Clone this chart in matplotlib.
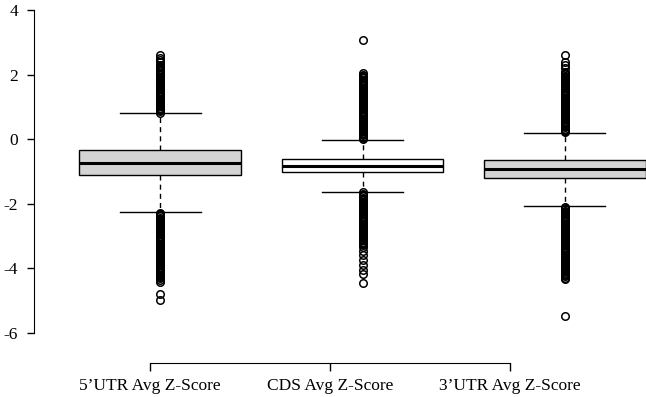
import matplotlib
matplotlib.use("Agg")
import matplotlib.pyplot as plt

# box statistics
labels = ["5\u2019UTR Avg Z-Score", "CDS Avg Z-Score", "3\u2019UTR Avg Z-Score"]
q1 = [-1.11, -1.02, -1.20]
medians = [-0.74, -0.83, -0.92]
q3 = [-0.33, -0.61, -0.64]
whis_lo = [-2.25, -1.63, -2.07]
whis_hi = [0.81, -0.02, 0.19]
box_colors = ["#d3d3d3", "#ffffff", "#d3d3d3"]

# outliers, read down each column (the dense parts look solid in the original)
utr5_out = [0.82, 0.86, 0.90, 0.94, 0.98, 1.02, 1.06, 1.10, 1.14, 1.18, 1.22, 1.26,
            1.30, 1.34, 1.38, 1.42, 1.46, 1.50, 1.54, 1.58, 1.62, 1.66, 1.70, 1.74,
            1.78, 1.82, 1.86, 1.90, 1.94, 1.98, 2.02, 2.06, 2.10, 2.14, 2.18, 2.22,
            2.26, 2.30, 2.38, 2.45, 2.52, 2.61,
            -2.27, -2.31, -2.35, -2.39, -2.43, -2.47, -2.51, -2.55, -2.59, -2.63,
            -2.67, -2.71, -2.75, -2.79, -2.83, -2.87, -2.91, -2.95, -2.99, -3.03,
            -3.07, -3.11, -3.15, -3.19, -3.23, -3.27, -3.31, -3.35, -3.39, -3.43,
            -3.47, -3.51, -3.55, -3.59, -3.63, -3.67, -3.71, -3.75, -3.79, -3.83,
            -3.87, -3.91, -3.95, -3.99, -4.03, -4.07, -4.11, -4.15, -4.19, -4.23,
            -4.27, -4.31, -4.36, -4.42, -4.79, -4.98]
cds_out = [0.00, 0.04, 0.08, 0.12, 0.16, 0.20, 0.24, 0.28, 0.32, 0.36, 0.40, 0.44,
           0.48, 0.52, 0.56, 0.60, 0.64, 0.68, 0.72, 0.76, 0.80, 0.84, 0.88, 0.92,
           0.96, 1.00, 1.04, 1.08, 1.12, 1.16, 1.20, 1.24, 1.28, 1.32, 1.36, 1.40,
           1.44, 1.48, 1.52, 1.56, 1.60, 1.64, 1.68, 1.72, 1.76, 1.80, 1.84, 1.88,
           1.92, 1.96, 2.00, 2.05, 3.07,
           -1.65, -1.69, -1.73, -1.77, -1.81, -1.85, -1.89, -1.93, -1.97, -2.01,
           -2.05, -2.09, -2.13, -2.17, -2.21, -2.25, -2.29, -2.33, -2.37, -2.41,
           -2.45, -2.49, -2.53, -2.57, -2.61, -2.65, -2.69, -2.73, -2.77, -2.81,
           -2.85, -2.89, -2.93, -2.97, -3.01, -3.05, -3.09, -3.13, -3.17, -3.21,
           -3.25, -3.29, -3.33, -3.45, -3.60, -3.75, -3.90, -4.05, -4.18, -4.45]
utr3_out = [0.21, 0.25, 0.29, 0.33, 0.37, 0.41, 0.45, 0.49, 0.53, 0.57, 0.61, 0.65,
            0.69, 0.73, 0.77, 0.81, 0.85, 0.89, 0.93, 0.97, 1.01, 1.05, 1.09, 1.13,
            1.17, 1.21, 1.25, 1.29, 1.33, 1.37, 1.41, 1.45, 1.49, 1.53, 1.57, 1.61,
            1.65, 1.69, 1.73, 1.77, 1.81, 1.85, 1.89, 1.93, 1.97, 2.01, 2.05, 2.09,
            2.20, 2.30, 2.39, 2.61,
            -2.09, -2.13, -2.17, -2.21, -2.25, -2.29, -2.33, -2.37, -2.41, -2.45,
            -2.49, -2.53, -2.57, -2.61, -2.65, -2.69, -2.73, -2.77, -2.81, -2.85,
            -2.89, -2.93, -2.97, -3.01, -3.05, -3.09, -3.13, -3.17, -3.21, -3.25,
            -3.29, -3.33, -3.37, -3.41, -3.45, -3.49, -3.53, -3.57, -3.61, -3.65,
            -3.69, -3.73, -3.77, -3.81, -3.85, -3.89, -3.93, -3.97, -4.01, -4.05,
            -4.09, -4.13, -4.17, -4.21, -4.25, -4.29, -4.33, -5.48]
outliers = [utr5_out, cds_out, utr3_out]

plt.rcParams["font.family"] = ["Liberation Serif", "DejaVu Serif"]
plt.rcParams["axes.unicode_minus"] = False
plt.rcParams["font.size"] = 12.5

W, H = 646, 397
fig = plt.figure(figsize=(W / 100, H / 100), dpi=100)

# box panel (right box runs off the edge, as in the original)
ax = fig.add_axes([59 / W, (H - 333) / H, 607 / W, 323 / H])
ax.patch.set_alpha(0)

stats = []
for i in range(3):
    stats.append(dict(med=medians[i], q1=q1[i], q3=q3[i],
                      whislo=whis_lo[i], whishi=whis_hi[i], fliers=outliers[i]))

bp = ax.bxp(stats, positions=[1, 2, 3], widths=0.8, capwidths=0.4,
            patch_artist=True, showfliers=True,
            boxprops=dict(edgecolor="black", linewidth=1.0),
            medianprops=dict(color="black", linewidth=2.2),
            whiskerprops=dict(color="black", linewidth=1.0, linestyle=(0, (3.6, 3))),
            capprops=dict(color="black", linewidth=1.0),
            flierprops=dict(marker="o", markerfacecolor="none",
                            markeredgecolor="black", markersize=5.4,
                            markeredgewidth=1.1))
for patch, c in zip(bp["boxes"], box_colors):
    patch.set_facecolor(c)

ax.set_xlim(0.5, 3.5)
ax.set_ylim(-6, 4)
for s in ["top", "right", "bottom"]:
    ax.spines[s].set_visible(False)
ax.spines["left"].set_position(("outward", 18))
ax.spines["left"].set_bounds(-6, 4)
ax.set_yticks([-6, -4, -2, 0, 2, 4])
ax.set_yticklabels(["-6", "-4", "-2", "0", "2", "4"])
ax.tick_params(axis="y", length=5, width=1.0, pad=6.5)
ax.set_xticks([])

# category axis, drawn separately and offset like the original
ax2 = fig.add_axes([60 / W, (H - 363) / H, 540 / W, 0.001])
ax2.patch.set_alpha(0)
ax2.set_xlim(0.5, 3.5)
for s in ["top", "right", "left"]:
    ax2.spines[s].set_visible(False)
ax2.spines["bottom"].set_bounds(1, 3)
ax2.set_yticks([])
ax2.set_xticks([1, 2, 3])
ax2.set_xticklabels(labels)
ax2.tick_params(axis="x", length=6, width=1.0, pad=5)

fig.savefig("out.png", dpi=100)
